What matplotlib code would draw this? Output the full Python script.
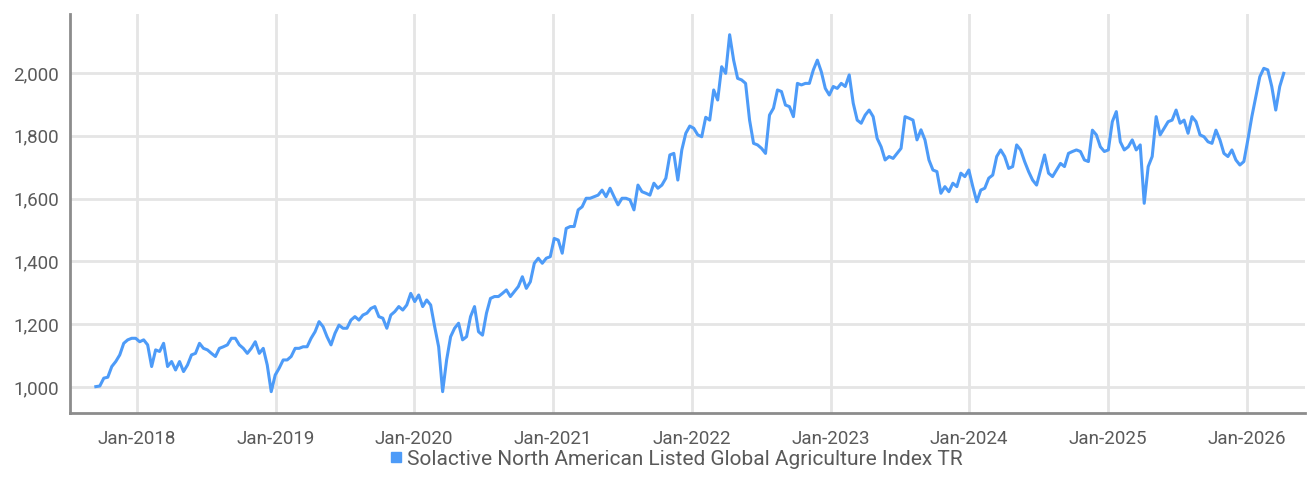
import matplotlib
matplotlib.use("Agg")
import matplotlib.pyplot as plt
import matplotlib.ticker as mticker
import matplotlib.dates as mdates
import pandas as pd
from matplotlib.lines import Line2D

start_date = "2017-09-15"
end_date = "2026-04-08"
values_2017_2018 = [
    1001, 1003, 1028, 1031, 1065, 1081, 1102, 1139, 1150, 1155, 1155, 1144, 1150,
    1134, 1065, 1118, 1113, 1139, 1065, 1081, 1054, 1081, 1049, 1070, 1102, 1107,
    1139, 1123, 1118, 1107, 1097, 1123, 1128, 1134, 1155, 1155, 1134, 1123, 1107,
    1123, 1144, 1107, 1123, 1070, 985, 1038, 1060, 1086, 1086,
]
values_2019_2020 = [
    1097, 1123, 1123, 1128, 1128, 1155, 1176, 1208, 1192, 1160, 1134, 1171, 1197,
    1187, 1187, 1213, 1224, 1213, 1229, 1235, 1250, 1256, 1224, 1219, 1187, 1229,
    1240, 1256, 1245, 1261, 1298, 1272, 1293, 1256, 1277, 1261, 1192, 1128, 985,
    1086, 1160, 1187, 1203, 1150, 1160, 1224, 1256, 1176, 1165, 1235,
]
values_2020_2021 = [
    1282, 1288, 1288, 1298, 1309, 1288, 1304, 1320, 1351, 1314, 1335, 1394, 1410,
    1394, 1410, 1415, 1473, 1468, 1426, 1505, 1511, 1511, 1564, 1574, 1601, 1601,
    1606, 1611, 1627, 1606, 1633, 1606, 1580, 1601, 1601, 1596, 1564, 1643, 1622,
    1617, 1611, 1649, 1633, 1643, 1665, 1739, 1744, 1659, 1755, 1808,
]
values_2022 = [
    1831, 1824, 1803, 1797, 1859, 1850, 1946, 1914, 2020, 1999, 2122, 2041, 1983,
    1978, 1967, 1850, 1776, 1771, 1760, 1744, 1866, 1888, 1946, 1941, 1898, 1893,
    1861, 1967, 1962, 1967, 1967, 2010, 2041, 2004, 1951, 1930, 1957, 1951, 1967,
    1957, 1994, 1904, 1850, 1840, 1866, 1882, 1861, 1792, 1765, 1723,
]
values_2023_2024 = [
    1734, 1728, 1744, 1760, 1861, 1856, 1850, 1787, 1819, 1787, 1723, 1691, 1686,
    1617, 1638, 1622, 1649, 1638, 1681, 1670, 1691, 1638, 1590, 1627, 1633, 1665,
    1675, 1734, 1755, 1734, 1696, 1702, 1771, 1755, 1718, 1686, 1659, 1643, 1691,
    1739, 1681, 1670, 1691, 1712, 1702, 1744, 1750, 1755, 1750, 1723,
]
values_2025_2026 = [
    1718, 1818, 1803, 1765, 1750, 1755, 1845, 1877, 1781, 1755, 1765, 1787, 1755,
    1771, 1585, 1702, 1734, 1861, 1803, 1824, 1845, 1850, 1882, 1840, 1850, 1808,
    1861, 1845, 1803, 1797, 1781, 1776, 1818, 1787, 1744, 1734, 1755, 1723, 1707,
    1718, 1787, 1861, 1925, 1988, 2015, 2010, 1957, 1882, 1957, 1999,
]
values = (values_2017_2018 + values_2019_2020 + values_2020_2021
          + values_2022 + values_2023_2024 + values_2025_2026)
dates = pd.date_range(start_date, end_date, periods=len(values))

series_name = "Solactive North American Listed Global Agriculture Index TR"
line_color = "#4d9bf8"
text_color = "#5a5a5a"
grid_color = "#e5e5e5"
font = ["Roboto", "DejaVu Sans"]

fig = plt.figure(figsize=(13.07, 4.98), dpi=100)
ax = fig.add_axes([70 / 1307, 85 / 498, 1235 / 1307, 399 / 498])

ax.plot(dates, values, color=line_color, linewidth=2.2, solid_joinstyle="round")

ax.set_xlim(pd.Timestamp("2017-07-09"), pd.Timestamp("2026-06-03"))
ax.set_ylim(917, 2188)

ax.xaxis.set_major_locator(mdates.YearLocator(month=1, day=1))
ax.xaxis.set_major_formatter(mdates.DateFormatter("%b-%Y"))
ax.yaxis.set_major_locator(mticker.MultipleLocator(200))
ax.yaxis.set_major_formatter(mticker.FuncFormatter(lambda v, p: f"{v:,.0f}"))

ax.grid(True, color=grid_color, linewidth=2)
ax.set_axisbelow(True)
for side in ["top", "right"]:
    ax.spines[side].set_visible(False)
for side in ["left", "bottom"]:
    ax.spines[side].set_color("#8c8c8c")
    ax.spines[side].set_linewidth(2)

ax.tick_params(length=0, colors=text_color, labelsize=13.5)
ax.tick_params(axis="x", pad=12)
ax.tick_params(axis="y", pad=8)
for lab in ax.get_xticklabels() + ax.get_yticklabels():
    lab.set_family(font)

handle = Line2D([], [], marker="s", linestyle="none", markersize=7,
                markerfacecolor=line_color, markeredgecolor=line_color)
fig.legend([handle], [series_name], loc="center", bbox_to_anchor=(674 / 1307, 1 - 459 / 498),
           frameon=False, handletextpad=0.0, handlelength=1.0,
           prop={"family": font, "size": 15}, labelcolor=text_color)

fig.savefig("out.png", dpi=100)
